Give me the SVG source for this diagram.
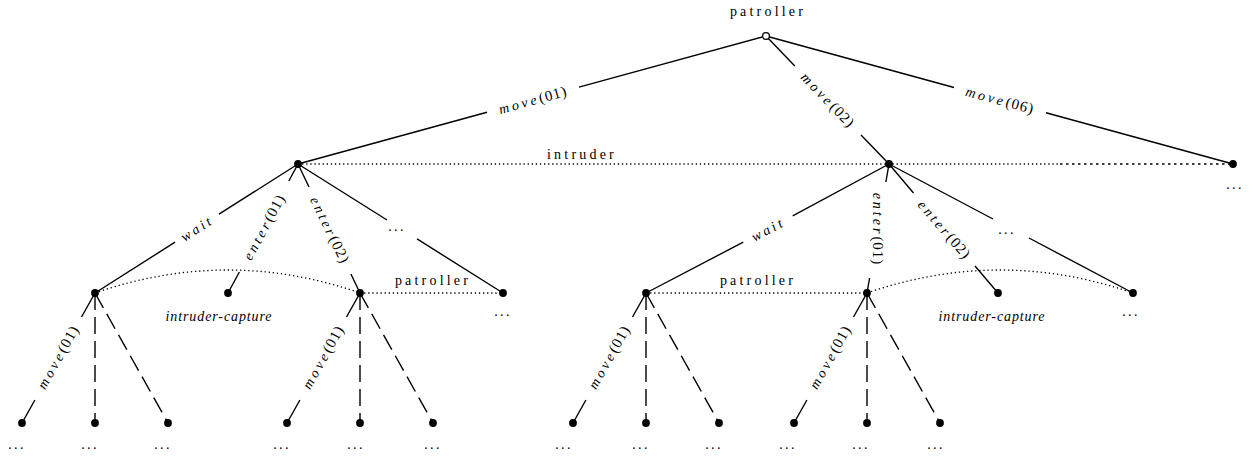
<svg xmlns="http://www.w3.org/2000/svg" width="1253" height="456" viewBox="0 0 1253 456">
  <style>
    .e { stroke: #000; stroke-width: 1.4; fill: none; stroke-linecap: butt; }
    .d { stroke: #000; stroke-width: 1.4; fill: none; stroke-dasharray: 17 7; }
    .dot { stroke: #000; stroke-width: 1.3; fill: none; stroke-dasharray: 1.3 2.8; }
    .dash { stroke: #000; stroke-width: 1.3; fill: none; stroke-dasharray: 2.5 3.5; }
    .n { fill: #000; }
    .root { fill: #fff; stroke: #000; stroke-width: 1.3; }
    .t { font-family: "Liberation Serif", "Times New Roman", serif; font-size: 14px; fill: #000; }
    .pl { letter-spacing: 3.2px; }
    .mi { font-style: italic; letter-spacing: 3px; }
    .num { font-size: 15px; letter-spacing: 1px; }
    .it { font-style: italic; letter-spacing: 0.9px; }
    .dots { letter-spacing: 2.3px; }
  </style>

  <!-- information sets -->
  <g id="info-sets">
    <path class="dot" d="M298,164 H1060"/>
    <path class="dash" d="M1060,164 H1233"/>
    <text class="t pl" x="582" y="159" text-anchor="middle">intruder</text>
    <path class="dot" d="M95,293 Q228,247 360,293"/>
    <path class="dot" d="M360,293 H503"/>
    <text class="t pl" x="433" y="285" text-anchor="middle">patroller</text>
    <path class="dot" d="M646,293 H867"/>
    <text class="t pl" x="758" y="285" text-anchor="middle">patroller</text>
    <path class="dot" d="M867,293 Q1000,247 1133,293"/>
  </g>

  <!-- connectors -->
  <g id="connectors">
    <!-- root moves -->
    <path class="e" d="M766,36 L579,87.1 M487,112.3 L298,164"/>
    <path class="e" d="M766,36 L794.8,66 M861,135 L889,164"/>
    <path class="e" d="M766,36 L954,87.5 M1046,112.7 L1233,164"/>
    <text class="t" transform="translate(533,100) rotate(-15.3)" y="5" text-anchor="middle"><tspan class="mi">move</tspan><tspan class="num">(01)</tspan></text>
    <text class="t" transform="translate(828,100) rotate(46.1)" y="5" text-anchor="middle"><tspan class="mi">move</tspan><tspan class="num">(02)</tspan></text>
    <text class="t" transform="translate(1000,100) rotate(15.3)" y="5" text-anchor="middle"><tspan class="mi">move</tspan><tspan class="num">(06)</tspan></text>

    <!-- intruder moves, left -->
    <path class="e" d="M298,164 L219,214.2 M175,242.2 L95,293"/>
    <path class="e" d="M298,164 L288.8,181 M239.4,272 L228,293"/>
    <path class="e" d="M298,164 L309,187 M350.9,274 L360,293"/>
    <path class="e" d="M298,164 L387,220 M417,238.9 L503,293"/>
    <text class="t" transform="translate(197,228) rotate(-32.4)" y="5" text-anchor="middle"><tspan class="mi">wait</tspan></text>
    <text class="t" transform="translate(264,227) rotate(-61.5)" y="5" text-anchor="middle"><tspan class="mi">enter</tspan><tspan class="num">(01)</tspan></text>
    <text class="t" transform="translate(330,230) rotate(64.3)" y="5" text-anchor="middle"><tspan class="mi">enter</tspan><tspan class="num">(02)</tspan></text>
    <text class="t dots" x="397" y="231" text-anchor="middle">...</text>

    <!-- intruder moves, right -->
    <path class="e" d="M889,164 L792.7,215.9 M743.3,242.1 L646,293"/>
    <path class="e" d="M889,164 L885.9,182 M869.6,278 L867,293"/>
    <path class="e" d="M889,164 L913.5,193 M975,266 L998,293"/>
    <path class="e" d="M889,164 L993,219 M1029,238 L1133,293"/>
    <text class="t" transform="translate(768,229) rotate(-27.96)" y="5" text-anchor="middle"><tspan class="mi">wait</tspan></text>
    <text class="t" transform="translate(878,229) rotate(90)" y="5" text-anchor="middle"><tspan class="mi">enter</tspan><tspan class="num">(01)</tspan></text>
    <text class="t" transform="translate(944.5,229.5) rotate(49.3)" y="5" text-anchor="middle"><tspan class="mi">enter</tspan><tspan class="num">(02)</tspan></text>
    <text class="t dots" x="1007" y="234" text-anchor="middle">...</text>

    <!-- patroller moves, level 3 -->
    <path class="e" d="M95,293 L81.5,317 M34.9,400 L22,423"/>
    <path class="d" d="M95,293 L95,423"/>
    <path class="d" d="M95,293 L168,423"/>
    <text class="t" transform="translate(58,357) rotate(-60.7)" y="5" text-anchor="middle"><tspan class="mi">move</tspan><tspan class="num">(01)</tspan></text>

    <path class="e" d="M360,293 L346.5,317 M299.9,400 L287,423"/>
    <path class="d" d="M360,293 L360,423"/>
    <path class="d" d="M360,293 L433,423"/>
    <text class="t" transform="translate(323,357) rotate(-60.7)" y="5" text-anchor="middle"><tspan class="mi">move</tspan><tspan class="num">(01)</tspan></text>

    <path class="e" d="M646,293 L632.5,317 M585.9,400 L573,423"/>
    <path class="d" d="M646,293 L646,423"/>
    <path class="d" d="M646,293 L719,423"/>
    <text class="t" transform="translate(609,357) rotate(-60.7)" y="5" text-anchor="middle"><tspan class="mi">move</tspan><tspan class="num">(01)</tspan></text>

    <path class="e" d="M867,293 L853.5,317 M806.9,400 L794,423"/>
    <path class="d" d="M867,293 L867,423"/>
    <path class="d" d="M867,293 L940,423"/>
    <text class="t" transform="translate(830,357) rotate(-60.7)" y="5" text-anchor="middle"><tspan class="mi">move</tspan><tspan class="num">(01)</tspan></text>
  </g>

  <!-- root -->
  <g id="n-root">
    <circle class="root" cx="766" cy="36" r="3.4"/>
    <text class="t pl" x="768" y="16" text-anchor="middle">patroller</text>
  </g>

  <!-- level 1 -->
  <g id="n-m01"><circle class="n" cx="298" cy="164" r="3.9"/></g>
  <g id="n-m02"><circle class="n" cx="889" cy="164" r="3.9"/></g>
  <g id="n-m06">
    <circle class="n" cx="1233" cy="164" r="3.9"/>
    <text class="t dots" x="1235" y="189" text-anchor="middle">...</text>
  </g>

  <!-- level 2, left -->
  <g id="n-m01-wait"><circle class="n" cx="95" cy="293" r="3.9"/></g>
  <g id="n-m01-e01">
    <circle class="n" cx="228" cy="293" r="3.9"/>
    <text class="t it" x="219" y="321" text-anchor="middle">intruder-capture</text>
  </g>
  <g id="n-m01-e02"><circle class="n" cx="360" cy="293" r="3.9"/></g>
  <g id="n-m01-more">
    <circle class="n" cx="503" cy="293" r="3.9"/>
    <text class="t dots" x="503" y="316" text-anchor="middle">...</text>
  </g>

  <!-- level 2, right -->
  <g id="n-m02-wait"><circle class="n" cx="646" cy="293" r="3.9"/></g>
  <g id="n-m02-e01"><circle class="n" cx="867" cy="293" r="3.9"/></g>
  <g id="n-m02-e02">
    <circle class="n" cx="998" cy="293" r="3.9"/>
    <text class="t it" x="992" y="321" text-anchor="middle">intruder-capture</text>
  </g>
  <g id="n-m02-more">
    <circle class="n" cx="1133" cy="293" r="3.9"/>
    <text class="t dots" x="1131" y="316" text-anchor="middle">...</text>
  </g>

  <!-- level 3 leaves -->
  <g id="n-l1"><circle class="n" cx="22" cy="423" r="3.9"/><text class="t dots" x="17" y="449" text-anchor="middle">...</text></g>
  <g id="n-l2"><circle class="n" cx="95" cy="423" r="3.9"/><text class="t dots" x="90" y="449" text-anchor="middle">...</text></g>
  <g id="n-l3"><circle class="n" cx="168" cy="423" r="3.9"/><text class="t dots" x="163" y="449" text-anchor="middle">...</text></g>
  <g id="n-l4"><circle class="n" cx="287" cy="423" r="3.9"/><text class="t dots" x="282" y="449" text-anchor="middle">...</text></g>
  <g id="n-l5"><circle class="n" cx="360" cy="423" r="3.9"/><text class="t dots" x="356" y="449" text-anchor="middle">...</text></g>
  <g id="n-l6"><circle class="n" cx="433" cy="423" r="3.9"/><text class="t dots" x="433" y="449" text-anchor="middle">...</text></g>
  <g id="n-l7"><circle class="n" cx="573" cy="423" r="3.9"/><text class="t dots" x="564" y="449" text-anchor="middle">...</text></g>
  <g id="n-l8"><circle class="n" cx="646" cy="423" r="3.9"/><text class="t dots" x="641" y="449" text-anchor="middle">...</text></g>
  <g id="n-l9"><circle class="n" cx="719" cy="423" r="3.9"/><text class="t dots" x="714" y="449" text-anchor="middle">...</text></g>
  <g id="n-l10"><circle class="n" cx="794" cy="423" r="3.9"/><text class="t dots" x="788" y="449" text-anchor="middle">...</text></g>
  <g id="n-l11"><circle class="n" cx="867" cy="423" r="3.9"/><text class="t dots" x="861" y="449" text-anchor="middle">...</text></g>
  <g id="n-l12"><circle class="n" cx="940" cy="423" r="3.9"/><text class="t dots" x="936" y="449" text-anchor="middle">...</text></g>
</svg>
